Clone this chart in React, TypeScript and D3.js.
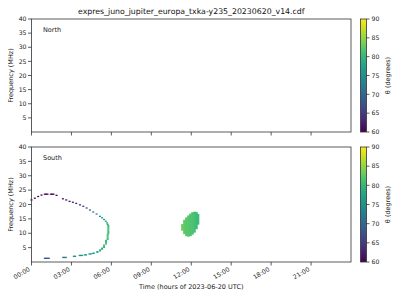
import React from "react";
import * as d3 from "d3";

const TITLE = "expres_juno_jupiter_europa_txka-y235_20230620_v14.cdf";
const xTickHours = [0, 3, 6, 9, 12, 15, 18, 21];
const xTickLabels = ["00:00", "03:00", "06:00", "09:00", "12:00", "15:00", "18:00", "21:00"];
const yTicks = [5, 10, 15, 20, 25, 30, 35, 40];
const cbTicks = [60, 65, 70, 75, 80, 85, 90];

// South hemisphere emission: [hour, frequency MHz, theta deg]
const southTime = [
  0.0, 0.25, 0.5, 0.75, 1.0, 1.1, 1.2, 1.45, 1.55, 1.65, 1.88, 2.36, 2.61, 2.86, 3.11, 3.36, 3.64, 3.89, 4.14, 4.39, 4.64, 4.89, 5.14, 5.3, 5.45, 5.58, 5.68, 5.72,
  5.77, 5.77, 5.77, 5.77, 5.77, 5.77, 5.77, 5.77,
  5.72, 5.72, 5.72, 5.72, 5.72,
  5.6, 5.6, 5.6, 5.6,
  5.45, 5.45, 5.45,
  5.3, 5.3, 5.15, 5.15, 4.95, 4.95, 4.7, 4.6, 4.45, 4.35,
  4.1, 4.0, 3.8, 3.7, 3.62, 3.28, 3.18, 2.58, 2.48, 2.38, 1.0, 1.1, 1.2, 1.3,
];
const southFreq = [
  21.6, 22.2, 22.8, 23.3, 23.6, 23.6, 23.6, 23.6, 23.6, 23.6, 23.2, 22.0, 21.6, 21.1, 20.8, 20.4, 19.9, 19.4, 18.8, 18.1, 17.4, 16.7, 15.9, 15.4, 14.8, 14.2, 13.6, 13.1,
  12.7, 12.3, 11.9, 11.5, 11.1, 10.7, 10.3, 9.9,
  9.5, 9.1, 8.7, 8.3, 7.9,
  7.5, 7.1, 6.7, 6.3,
  5.9, 5.5, 5.1,
  4.8, 4.5, 4.2, 3.9, 3.6, 3.4, 3.1, 3.0, 2.8, 2.8,
  2.5, 2.5, 2.3, 2.3, 2.3, 2.0, 2.0, 1.6, 1.6, 1.6, 1.3, 1.3, 1.3, 1.3,
];
const southTheta = [
  60.5, 60.5, 60.5, 60.5, 60.5, 60.5, 60.5, 60.5, 60.5, 60.5, 60.5, 61, 61, 61.5, 62, 63, 64, 65, 67, 70, 72, 73, 74, 75, 76, 77, 78, 79,
  80.5, 80.5, 80.5, 80.5, 80.5, 80.5, 80.5, 80.5,
  80.5, 80.5, 80.5, 80.5, 80.5,
  80, 80, 80, 80,
  79.5, 79.5, 79.5,
  79, 79, 78.5, 78.5, 78, 78, 77, 77, 76.5, 76.5,
  76, 76, 75, 75, 75, 74, 74, 72, 72, 72, 68, 68, 68, 68,
];

// Blob near 12:00 as columns: hour, low / high frequency, theta
const blobTime = [11.34, 11.49, 11.64, 11.79, 11.94, 12.09, 12.24, 12.39, 12.51];
const blobLow = [10.9, 9.7, 9.0, 8.8, 9.0, 9.5, 10.2, 11.4, 13.0];
const blobHigh = [13.2, 14.7, 15.5, 16.2, 16.8, 17.3, 17.5, 17.4, 16.7];
const blobTheta = [83, 82.5, 82, 82, 81.5, 81.5, 81, 80.5, 80.5];

const W = 400;
const H = 300;
const X0 = 31.5;
const X1 = 351;
const panels = [
  { name: "North", top: 19, bottom: 132 },
  { name: "South", top: 147, bottom: 262 },
];
const CB0 = 360.5;
const CB1 = 366.5;
const FONT = "DejaVu Sans, sans-serif";
const AX = "#333";

export default function App() {
  const x = d3.scaleLinear().domain([0, 24]).range([X0, X1]);
  const color = (t: number) => d3.interpolateViridis((t - 60) / 30);
  const gradStops = d3.range(0, 1.0001, 0.05);

  return (
    <svg width={W} height={H} style={{ position: "absolute", left: 0, top: 0, background: "#fff" }} fontFamily={FONT}>
      <defs>
        <linearGradient id="viridis" x1="0" y1="1" x2="0" y2="0">
          {gradStops.map((s) => (
            <stop key={s} offset={s} stopColor={d3.interpolateViridis(s)} />
          ))}
        </linearGradient>
      </defs>
      <text x={(X0 + X1) / 2} y={13.5} fontSize={7.8} textAnchor="middle" fill="#111">
        {TITLE}
      </text>
      {panels.map((p, pi) => {
        const y = d3.scaleLinear().domain([0, 40]).range([p.bottom, p.top]);
        const cb = d3.scaleLinear().domain([60, 90]).range([p.bottom, p.top]);
        const isSouth = pi === 1;
        const dx = x(0.15) - x(0);
        return (
          <g key={p.name}>
            {isSouth &&
              blobTime.map((t, i) => (
                <rect
                  key={"b" + i}
                  x={x(t) - dx / 2 - 0.3}
                  y={y(blobHigh[i])}
                  width={dx + 0.6}
                  height={y(blobLow[i]) - y(blobHigh[i])}
                  fill={color(blobTheta[i])}
                />
              ))}
            {isSouth &&
              southTime.map((t, i) => (
                <rect
                  key={"s" + i}
                  x={x(t) - 1}
                  y={y(southFreq[i]) - 0.6}
                  width={2}
                  height={1.3}
                  fill={color(southTheta[i])}
                />
              ))}
            <rect x={X0} y={p.top} width={X1 - X0} height={p.bottom - p.top} fill="none" stroke={AX} strokeWidth={0.8} />
            <text x={43} y={p.top + 13} fontSize={6.5} fill="#222">
              {p.name}
            </text>
            {yTicks.map((v) => (
              <g key={v}>
                <line x1={X0 - 3.5} x2={X0} y1={y(v)} y2={y(v)} stroke={AX} strokeWidth={0.8} />
                <text x={X0 - 5} y={y(v)} dy="0.35em" fontSize={6.2} textAnchor="end" fill="#222">
                  {v}
                </text>
              </g>
            ))}
            {xTickHours.map((h) => (
              <line key={h} x1={x(h)} x2={x(h)} y1={p.bottom} y2={p.bottom + 3.5} stroke={AX} strokeWidth={0.8} />
            ))}
            <text
              transform={`translate(13,${(p.top + p.bottom) / 2}) rotate(-90)`}
              fontSize={6.5}
              textAnchor="middle"
              fill="#222"
            >
              Frequency (MHz)
            </text>
            <rect x={CB0} y={p.top} width={CB1 - CB0} height={p.bottom - p.top} fill="url(#viridis)" stroke={AX} strokeWidth={0.8} />
            {cbTicks.map((v) => (
              <g key={v}>
                <line x1={CB1} x2={CB1 + 3} y1={cb(v)} y2={cb(v)} stroke={AX} strokeWidth={0.8} />
                <text x={CB1 + 5} y={cb(v)} dy="0.35em" fontSize={6.2} fill="#222">
                  {v}
                </text>
              </g>
            ))}
            <text
              transform={`translate(390,${(p.top + p.bottom) / 2}) rotate(-90)`}
              fontSize={6.5}
              textAnchor="middle"
              fill="#222"
            >
              θ (degrees)
            </text>
          </g>
        );
      })}
      {xTickHours.map((h, i) => (
        <text
          key={h}
          transform={`translate(${x(h) - 1},${270.5}) rotate(-30)`}
          fontSize={6.2}
          textAnchor="end"
          fill="#222"
        >
          {xTickLabels[i]}
        </text>
      ))}
      <text x={(X0 + X1) / 2} y={289} fontSize={6.5} textAnchor="middle" fill="#222">
        Time (hours of 2023-06-20 UTC)
      </text>
    </svg>
  );
}
